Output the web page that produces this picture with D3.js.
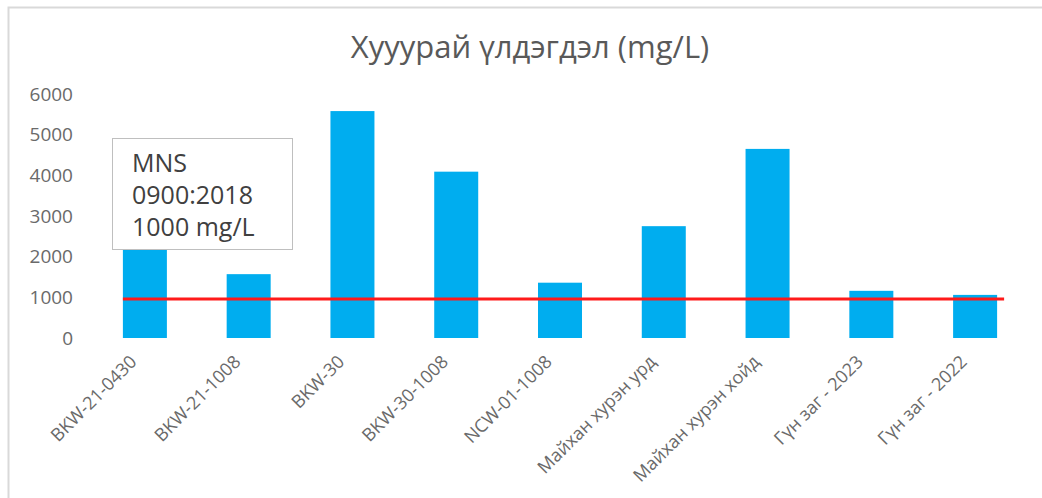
<!DOCTYPE html>
<html>
<head>
<meta charset="utf-8">
<script src="https://cdn.jsdelivr.net/npm/d3@7"></script>
<style>
  body { margin: 0; background: #fff; }
  text { font-family: "Open Sans", sans-serif; }
</style>
</head>
<body>
<div class="chart"></div>
<script>
// data
var categories = ['BKW-21-0430', 'BKW-21-1008', 'BKW-30', 'BKW-30-1008', 'NCW-01-1008',
                  'Майхан хурэн урд', 'Майхан хурэн хойд', 'Гүн заг - 2023', 'Гүн заг - 2022'];
var values = [2300, 1570, 5580, 4090, 1360, 2750, 4650, 1160, 1060];
var yTicks = [0, 1000, 2000, 3000, 4000, 5000, 6000];
var limitValue = 960;   // red line (drawn a bit under 1000 in the original)
var noteLines = ['MNS', '0900:2018', '1000 mg/L'];
var title = 'Хууурай үлдэгдэл (mg/L)';

var width = 1042, height = 498;

var svg = d3.select('.chart').append('svg')
    .attr('width', width)
    .attr('height', height);

// frame, only left and top edges show
svg.append('rect')
    .attr('x', 8.5).attr('y', 7.5)
    .attr('width', 1100).attr('height', 600)
    .attr('fill', 'none')
    .attr('stroke', '#d9d9d9')
    .attr('stroke-width', 2);

var x = d3.scaleBand()
    .domain(categories)
    .range([93, 1027])
    .paddingInner(0.576)
    .paddingOuter(0.288);

var y = d3.scaleLinear()
    .domain([0, 6000])
    .range([338, 94]);

svg.append('text')
    .attr('x', 530).attr('y', 58)
    .attr('text-anchor', 'middle')
    .attr('font-size', 31)
    .attr('fill', '#595959')
    .text(title);

var yAxis = svg.append('g')
    .attr('transform', 'translate(75,0)')
    .call(d3.axisLeft(y).tickValues(yTicks).tickFormat(d3.format('d')).tickSize(0).tickPadding(2));
yAxis.select('.domain').remove();
yAxis.selectAll('text')
    .attr('font-family', '"Open Sans", sans-serif')
    .attr('font-size', 19)
    .attr('fill', '#6a6a6a');

svg.selectAll('rect.bar')
    .data(values)
    .enter()
    .append('rect')
    .attr('class', 'bar')
    .attr('x', function (d, i) { return x(categories[i]); })
    .attr('y', function (d) { return y(d); })
    .attr('width', x.bandwidth())
    .attr('height', function (d) { return y(0) - y(d); })
    .attr('fill', '#00adef');

var xAxis = svg.append('g')
    .attr('transform', 'translate(0,' + y(0) + ')')
    .call(d3.axisBottom(x).tickSize(0).tickPadding(0));
xAxis.select('.domain').remove();
xAxis.selectAll('text')
    .attr('font-family', '"Open Sans", sans-serif')
    .attr('font-size', 18)
    .attr('fill', '#6a6a6a')
    .attr('text-anchor', 'end')
    .attr('dy', 0)
    .attr('transform', 'translate(-7,25) rotate(-45)');

// MNS limit line
svg.append('line')
    .attr('x1', x(categories[0]))
    .attr('x2', x(categories[categories.length - 1]) + x.bandwidth() + 7)
    .attr('y1', y(limitValue))
    .attr('y2', y(limitValue))
    .attr('stroke', '#ff1a1a')
    .attr('stroke-width', 3);

// note box
var note = svg.append('g').attr('transform', 'translate(112,138)');
note.append('rect')
    .attr('x', 0.5).attr('y', 0.5)
    .attr('width', 180).attr('height', 111)
    .attr('fill', '#fff')
    .attr('stroke', '#bfbfbf');
note.selectAll('text')
    .data(noteLines)
    .enter()
    .append('text')
    .attr('x', 20)
    .attr('y', function (d, i) { return 34 + i * 32; })
    .attr('font-size', 25)
    .attr('fill', '#404040')
    .text(function (d) { return d; });
</script>
</body>
</html>
